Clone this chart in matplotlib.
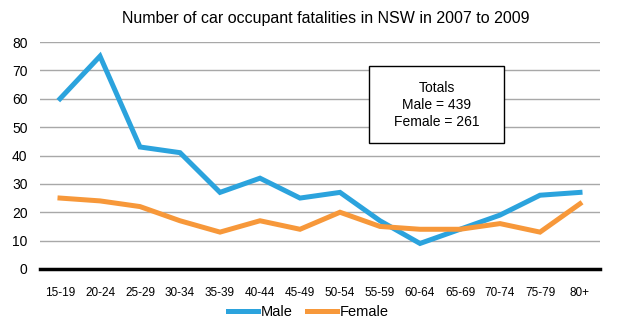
import numpy as np
import matplotlib.pyplot as plt
from matplotlib.patches import Rectangle

plt.rcParams['font.family'] = ['Liberation Sans', 'DejaVu Sans']

# Data
age_groups = ['15-19', '20-24', '25-29', '30-34', '35-39', '40-44', '45-49',
              '50-54', '55-59', '60-64', '65-69', '70-74', '75-79', '80+']
male = [60, 75, 43, 41, 27, 32, 25, 27, 17, 9, 14, 19, 26, 27]
female = [25, 24, 22, 17, 13, 17, 14, 20, 15, 14, 14, 16, 13, 23]
total_male = 439
total_female = 261

blue = '#2ba3dd'
orange = '#f7983a'

fig = plt.figure(figsize=(6.2, 3.3), dpi=100)
ax = fig.add_axes([40/620, 61/330, 560/620, 227/330])

x = np.arange(len(age_groups))
ax.plot(x, male, color=blue, lw=3.6, solid_joinstyle='miter', label='Male', zorder=3)
ax.plot(x, female, color=orange, lw=3.6, solid_joinstyle='miter', label='Female', zorder=3)

ax.set_xlim(-0.5, len(age_groups) - 0.5)
ax.set_ylim(0, 80)
ax.set_yticks(np.arange(0, 81, 10))
ax.set_xticks(x)
ax.set_xticklabels(age_groups, fontsize=8.5)
ax.tick_params(axis='y', labelsize=10, length=0, pad=9)
ax.tick_params(axis='x', length=0, pad=13)
ax.yaxis.grid(True, color='#a8a8a8', lw=1)
ax.set_axisbelow(True)
for s in ['top', 'right', 'left']:
    ax.spines[s].set_visible(False)
ax.spines['bottom'].set_linewidth(2.5)
ax.spines['bottom'].set_color('black')
ax.spines['bottom'].set_zorder(4)

fig.text(0.526, 0.945, 'Number of car occupant fatalities in NSW in 2007 to 2009',
         ha='center', va='center', fontsize=11.5)

# totals box
ax.add_patch(Rectangle((0.5875, 0.555), 0.241, 0.339, transform=ax.transAxes,
                       fc='white', ec='black', lw=1, zorder=5))
ax.text(0.708, 0.722, 'Totals\nMale = %d\nFemale = %d' % (total_male, total_female),
        transform=ax.transAxes, ha='center', va='center', fontsize=10,
        linespacing=1.3, zorder=6)

fig.legend(loc='center', bbox_to_anchor=(0.497, 0.055), ncol=2, frameon=False,
           fontsize=10.5, handlelength=2.1, handletextpad=0.15, columnspacing=1.0)

fig.savefig('out.png', dpi=100)
